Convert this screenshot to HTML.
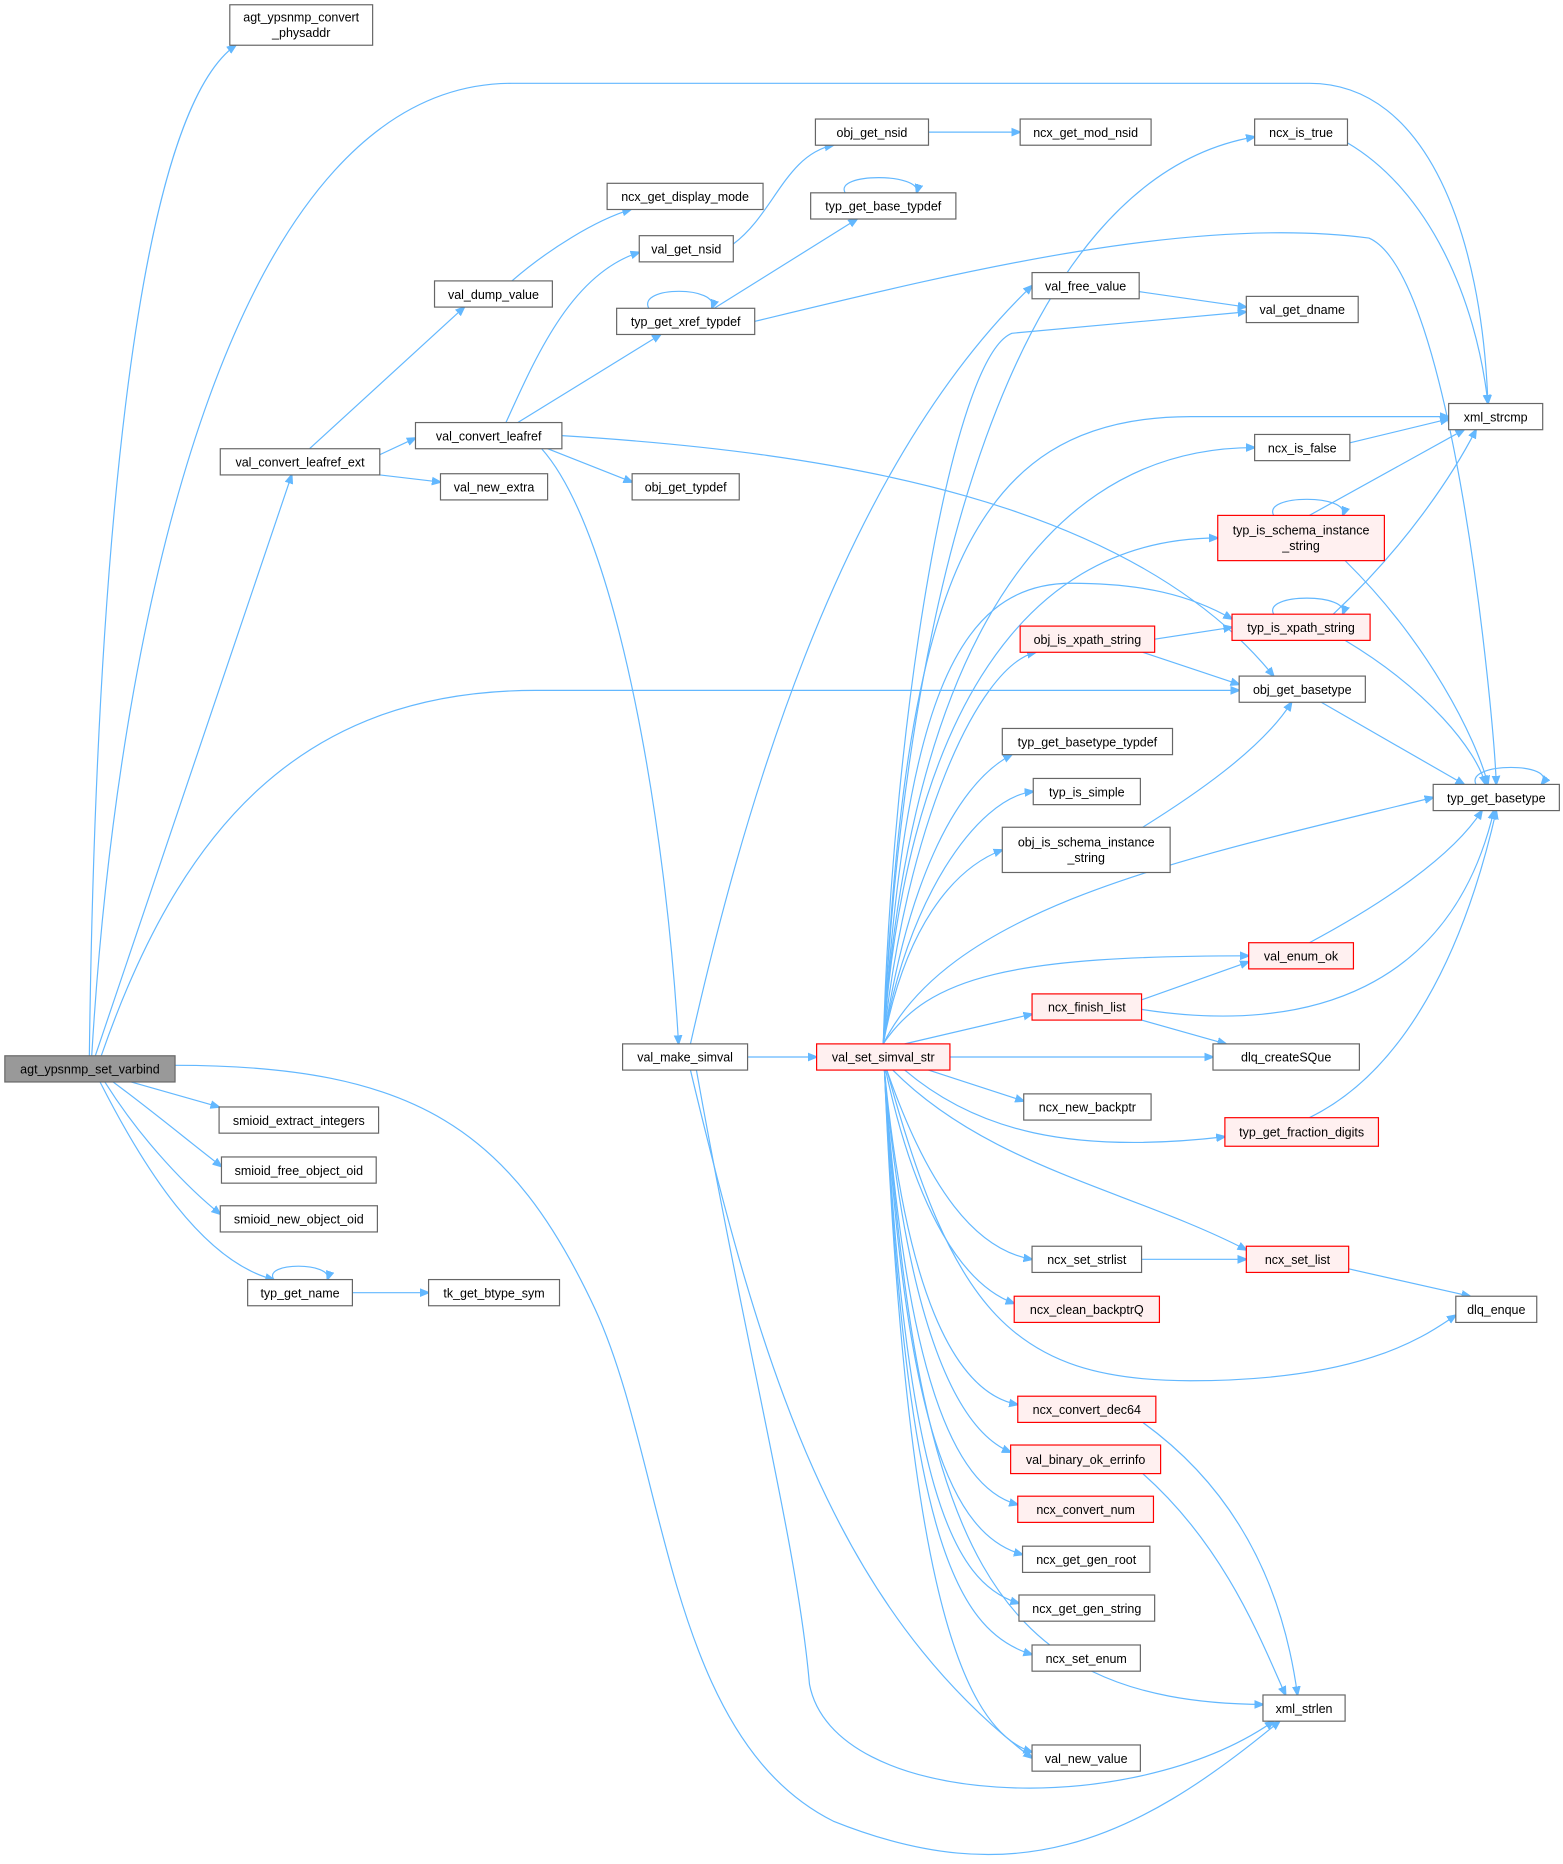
<!DOCTYPE html>
<html><head><meta charset="utf-8"><style>
html,body{margin:0;padding:0;background:#fff}
svg{display:block}
text{font-family:"Liberation Sans",Arial,sans-serif;font-size:10.5px;fill:#000}
.n rect{fill:#fff;stroke:#666;stroke-width:1}
.r rect{fill:#fff0f0;stroke:#f00;stroke-width:1}
.g rect{fill:#999;stroke:#666;stroke-width:1}
path.e{fill:none;stroke:#63b8ff;stroke-width:1}
</style></head><body>
<svg width="1563" height="1864" viewBox="0 0 1313 1566" xmlns="http://www.w3.org/2000/svg">
<defs><marker id="a" viewBox="0 0 10 10" refX="9" refY="5" markerWidth="8" markerHeight="8" orient="auto" markerUnits="userSpaceOnUse"><path d="M0,1 L10,5 L0,9z" fill="#63b8ff" stroke="#63b8ff"/></marker></defs>
<g marker-end="url(#a)">
<path class="e" d="M75,887 C80,500 110,100 198,38"/>
<path class="e" d="M77,887 C100,500 200,70 430,70 L1100,70 C1200,70 1245,200 1250,339"/>
<path class="e" d="M80,887 L245,399"/>
<path class="e" d="M85,887 C150,700 250,580 450,580 L1041,580"/>
<path class="e" d="M147,895 C350,895 430,950 500,1100 C560,1230 560,1460 700,1530 C850,1590 950,1550 1075,1446"/>
<path class="e" d="M110,909 L184,930"/>
<path class="e" d="M95,909 C130,935 160,960 186,980"/>
<path class="e" d="M88,909 C120,960 160,1000 185,1020"/>
<path class="e" d="M84,909 C120,980 170,1060 230,1075"/>
<path class="e" d="M230,1075 C220,1060 280,1060 275,1075"/>
<path class="e" d="M296,1086 L360,1086"/>
<path class="e" d="M260,377 L390,258"/>
<path class="e" d="M319,382 L349,368"/>
<path class="e" d="M319,399 L370,405"/>
<path class="e" d="M430,236 C460,210 500,185 530,176"/>
<path class="e" d="M425,355 C450,300 480,230 537,212"/>
<path class="e" d="M435,355 L555,281"/>
<path class="e" d="M460,377 L531,405"/>
<path class="e" d="M455,377 C520,450 560,700 570,877"/>
<path class="e" d="M472,366 C700,380 950,420 1070,568"/>
<path class="e" d="M616,205 C650,180 660,130 700,122"/>
<path class="e" d="M780,111 L857,111"/>
<path class="e" d="M545,259 C535,240 605,240 598,259"/>
<path class="e" d="M600,259 L720,184"/>
<path class="e" d="M634,270 C800,230 1000,180 1150,200 C1220,230 1255,600 1257,659"/>
<path class="e" d="M710,162 C700,145 775,145 770,162"/>
<path class="e" d="M628,888 L686,888"/>
<path class="e" d="M580,877 C620,700 700,400 867,240"/>
<path class="e" d="M580,899 C640,1150 700,1350 867,1477"/>
<path class="e" d="M585,899 C630,1150 670,1300 680,1415 C700,1520 950,1530 1070,1446"/>
<path class="e" d="M742,877 C760,500 850,150 1054,115"/>
<path class="e" d="M742,877 C750,600 800,300 850,280 L1047,262"/>
<path class="e" d="M742,877 C760,500 810,350 1000,350 L1217,350"/>
<path class="e" d="M742,877 C760,600 850,376 1054,376"/>
<path class="e" d="M742,877 C760,620 850,452 1023,452"/>
<path class="e" d="M742,877 C760,600 800,490 900,490 C960,490 1000,500 1035,520"/>
<path class="e" d="M742,877 C760,700 820,560 870,548"/>
<path class="e" d="M742,877 C760,750 800,660 850,634"/>
<path class="e" d="M742,877 C760,760 820,670 868,665"/>
<path class="e" d="M742,877 C760,780 800,730 842,714"/>
<path class="e" d="M742,877 C800,760 1000,720 1204,670"/>
<path class="e" d="M742,877 C780,820 850,803 1049,803"/>
<path class="e" d="M760,877 L867,852"/>
<path class="e" d="M798,888 L1019,888"/>
<path class="e" d="M780,899 L860,925"/>
<path class="e" d="M760,899 C820,950 900,970 1029,955"/>
<path class="e" d="M750,899 C830,980 950,1000 1047,1050"/>
<path class="e" d="M745,899 C800,1100 850,1160 1000,1160 C1150,1160 1200,1120 1223,1105"/>
<path class="e" d="M745,899 C780,1000 820,1050 867,1058"/>
<path class="e" d="M744,899 C770,1020 810,1080 852,1095"/>
<path class="e" d="M743,899 C760,1080 800,1170 855,1180"/>
<path class="e" d="M743,899 C760,1100 800,1200 849,1220"/>
<path class="e" d="M743,899 C760,1150 800,1250 855,1264"/>
<path class="e" d="M743,899 C760,1200 800,1290 859,1306"/>
<path class="e" d="M743,899 C760,1250 800,1330 856,1347"/>
<path class="e" d="M743,899 C760,1280 800,1370 867,1390"/>
<path class="e" d="M743,899 C770,1300 830,1430 1061,1432"/>
<path class="e" d="M743,899 C760,1300 800,1450 867,1472"/>
<path class="e" d="M1132,120 C1200,160 1240,250 1250,339"/>
<path class="e" d="M957,245 L1047,258"/>
<path class="e" d="M1134,372 L1217,352"/>
<path class="e" d="M1100,433 L1230,361"/>
<path class="e" d="M1070,433 C1060,415 1135,415 1128,433"/>
<path class="e" d="M1130,471 C1200,540 1240,620 1250,659"/>
<path class="e" d="M1120,516 C1180,460 1220,400 1240,361"/>
<path class="e" d="M1070,516 C1060,498 1135,498 1128,516"/>
<path class="e" d="M1130,538 C1200,580 1240,630 1248,659"/>
<path class="e" d="M970,537 L1035,527"/>
<path class="e" d="M960,548 L1041,575"/>
<path class="e" d="M1110,590 L1230,659"/>
<path class="e" d="M1240,659 C1230,640 1310,640 1295,659"/>
<path class="e" d="M960,695 C1000,670 1060,630 1085,590"/>
<path class="e" d="M1100,792 C1160,760 1220,720 1245,681"/>
<path class="e" d="M959,840 L1049,808"/>
<path class="e" d="M959,848 C1100,870 1220,830 1255,681"/>
<path class="e" d="M959,857 L1030,877"/>
<path class="e" d="M1100,939 C1180,900 1230,800 1257,681"/>
<path class="e" d="M959,1058 L1047,1058"/>
<path class="e" d="M1133,1066 L1235,1089"/>
<path class="e" d="M960,1195 C1050,1260 1080,1350 1090,1424"/>
<path class="e" d="M960,1238 C1030,1300 1060,1380 1080,1424"/>
</g>
<g class="g"><rect x="4" y="887" width="143" height="22"/></g>
<text x="75.5" y="902" text-anchor="middle">agt_ypsnmp_set_varbind</text>
<g class="n">
<rect x="193" y="4" width="120" height="34"/>
<rect x="185" y="377" width="134" height="22"/>
<rect x="365" y="236" width="99" height="22"/>
<rect x="510" y="154" width="131" height="22"/>
<rect x="349" y="355" width="123" height="22"/>
<rect x="370" y="398" width="90" height="22"/>
<rect x="537" y="198" width="79" height="22"/>
<rect x="685" y="100" width="95" height="22"/>
<rect x="857" y="100" width="110" height="22"/>
<rect x="681" y="162" width="122" height="22"/>
<rect x="518" y="259" width="116" height="22"/>
<rect x="531" y="398" width="90" height="22"/>
<rect x="184" y="930" width="134" height="22"/>
<rect x="186" y="972" width="130" height="22"/>
<rect x="185" y="1013" width="132" height="22"/>
<rect x="208" y="1075" width="88" height="22"/>
<rect x="360" y="1075" width="110" height="22"/>
<rect x="523" y="877" width="105" height="22"/>
<rect x="1054" y="100" width="78" height="22"/>
<rect x="867" y="229" width="90" height="22"/>
<rect x="1047" y="249" width="94" height="22"/>
<rect x="1217" y="339" width="79" height="22"/>
<rect x="1054" y="365" width="80" height="22"/>
<rect x="1041" y="568" width="106" height="22"/>
<rect x="842" y="612" width="143" height="22"/>
<rect x="868" y="654" width="90" height="22"/>
<rect x="842" y="695" width="141" height="38"/>
<rect x="1204" y="659" width="106" height="22"/>
<rect x="1019" y="877" width="123" height="22"/>
<rect x="860" y="919" width="107" height="22"/>
<rect x="867" y="1047" width="92" height="22"/>
<rect x="1223" y="1089" width="68" height="22"/>
<rect x="859" y="1299" width="107" height="22"/>
<rect x="856" y="1340" width="114" height="22"/>
<rect x="867" y="1382" width="91" height="22"/>
<rect x="1061" y="1424" width="69" height="22"/>
<rect x="867" y="1466" width="91" height="22"/>
</g>
<g class="r">
<rect x="686" y="877" width="112" height="22"/>
<rect x="1023" y="433" width="140" height="38"/>
<rect x="1035" y="516" width="116" height="22"/>
<rect x="857" y="526" width="113" height="22"/>
<rect x="1049" y="792" width="88" height="22"/>
<rect x="867" y="835" width="92" height="22"/>
<rect x="1029" y="939" width="129" height="24"/>
<rect x="1047" y="1047" width="86" height="22"/>
<rect x="852" y="1089" width="122" height="22"/>
<rect x="855" y="1173" width="116" height="22"/>
<rect x="849" y="1214" width="126" height="24"/>
<rect x="855" y="1257" width="114" height="22"/>
</g>
<g text-anchor="middle">
<text x="253" y="18">agt_ypsnmp_convert</text><text x="253" y="31">_physaddr</text>
<text x="252" y="392">val_convert_leafref_ext</text>
<text x="414.5" y="251">val_dump_value</text>
<text x="575.5" y="169">ncx_get_display_mode</text>
<text x="410.5" y="370">val_convert_leafref</text>
<text x="415" y="413">val_new_extra</text>
<text x="576.5" y="213">val_get_nsid</text>
<text x="732.5" y="115">obj_get_nsid</text>
<text x="912" y="115">ncx_get_mod_nsid</text>
<text x="742" y="177">typ_get_base_typdef</text>
<text x="576" y="274">typ_get_xref_typdef</text>
<text x="576" y="413">obj_get_typdef</text>
<text x="251" y="945">smioid_extract_integers</text>
<text x="251" y="987">smioid_free_object_oid</text>
<text x="251" y="1028">smioid_new_object_oid</text>
<text x="252" y="1090">typ_get_name</text>
<text x="415" y="1090">tk_get_btype_sym</text>
<text x="575.5" y="892">val_make_simval</text>
<text x="742" y="892">val_set_simval_str</text>
<text x="1093" y="115">ncx_is_true</text>
<text x="912" y="244">val_free_value</text>
<text x="1094" y="264">val_get_dname</text>
<text x="1256.5" y="354">xml_strcmp</text>
<text x="1094" y="380">ncx_is_false</text>
<text x="1093" y="449">typ_is_schema_instance</text><text x="1093" y="462">_string</text>
<text x="1093" y="531">typ_is_xpath_string</text>
<text x="913.5" y="541">obj_is_xpath_string</text>
<text x="1094" y="583">obj_get_basetype</text>
<text x="913.5" y="627">typ_get_basetype_typdef</text>
<text x="913" y="669">typ_is_simple</text>
<text x="912.5" y="711">obj_is_schema_instance</text><text x="912.5" y="724">_string</text>
<text x="1257" y="674">typ_get_basetype</text>
<text x="1093" y="807">val_enum_ok</text>
<text x="913" y="850">ncx_finish_list</text>
<text x="1080.5" y="892">dlq_createSQue</text>
<text x="913.5" y="934">ncx_new_backptr</text>
<text x="1093.5" y="955">typ_get_fraction_digits</text>
<text x="913" y="1062">ncx_set_strlist</text>
<text x="1090" y="1062">ncx_set_list</text>
<text x="913" y="1104">ncx_clean_backptrQ</text>
<text x="1257" y="1104">dlq_enque</text>
<text x="913" y="1188">ncx_convert_dec64</text>
<text x="912" y="1230">val_binary_ok_errinfo</text>
<text x="912" y="1272">ncx_convert_num</text>
<text x="912.5" y="1314">ncx_get_gen_root</text>
<text x="913" y="1355">ncx_get_gen_string</text>
<text x="912.5" y="1397">ncx_set_enum</text>
<text x="1095.5" y="1439">xml_strlen</text>
<text x="912.5" y="1481">val_new_value</text>
</g>
</svg>
</body></html>
